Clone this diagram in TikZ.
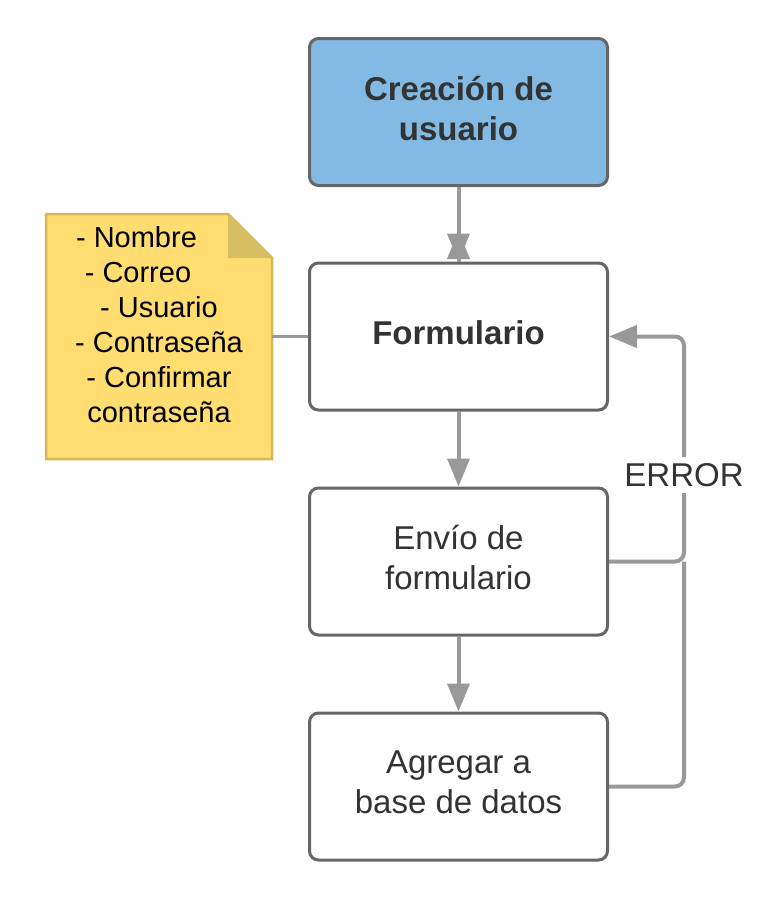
\documentclass[tikz,border=0pt]{standalone}
\usepackage{fontspec}
\setmainfont{Liberation Sans}
\usetikzlibrary{arrows.meta}

\definecolor{boxline}{HTML}{666666}
\definecolor{flowgray}{HTML}{999999}
\definecolor{txtgray}{HTML}{333333}
\definecolor{headblue}{HTML}{83BAE3}
\definecolor{notefill}{HTML}{FFDD71}
\definecolor{noteline}{HTML}{D6B656}
\definecolor{notefold}{HTML}{D7BE63}

\tikzset{
	stepbox/.style={draw=boxline, line width=3pt, rounded corners=9pt, fill=white,
		minimum width=298pt, minimum height=147pt, align=center, text=txtgray,
		text depth=8pt, font=\fontsize{33}{40}\selectfont},
	flow/.style={draw=flowgray, line width=4pt, -{Triangle[length=28pt,width=22pt]}},
	link/.style={draw=flowgray, line width=4pt},
}

\begin{document}
\begin{tikzpicture}[x=1pt, y=-1pt]
			%%%%% START %%%%%
			\useasboundingbox (0, 0) rectangle (765, 897);
			
			\node[stepbox, fill=headblue, font=\fontsize{33}{40}\selectfont\bfseries] (start) at (458.5, 112) {Creación de\\usuario};
			\node[stepbox, font=\fontsize{33}{40}\selectfont\bfseries] (form) at (458.5, 336.5) {Formulario};
			\node[stepbox] (send) at (458.5, 561.5) {Envío de\\formulario};
			\node[stepbox] (db) at (458.5, 786.5) {Agregar a\\base de datos};
			
			% nota con los campos
			\draw[line width=2.5pt, draw=noteline, fill=notefill] (46, 214) -- (228, 214) -- (272, 258) -- (272, 459) -- (46, 459) -- cycle;
			\fill[notefold] (228, 214) -- (272, 258) -- (228, 258) -- cycle;
			\node[align=center, font=\fontsize{29}{35}\selectfont] (fields) at (159, 325)
				{- Nombre\rule{45pt}{0pt}\\- Correo\rule{42pt}{0pt}\\- Usuario\\- Contraseña\\- Confirmar\\contraseña};
			\coordinate (noteedge) at (272, 336.5);
			\draw[link, line width=3pt] (noteedge) -- (form.west);
			
			\coordinate (uptip) at (458.5, 231);
			\draw[flow] (start.south) -- (form.north);
			\draw[flow] (form.north) -- (uptip);
			\draw[flow] (form.south) -- (send.north);
			\draw[flow] (send.south) -- (db.north);
			
			% vuelta por error
			\coordinate (join) at (684, 561.5);
			\draw[flow, rounded corners=9pt] (send.east) -- (join) -- (684, 336.5) -- (form.east);
			\draw[link, rounded corners=9pt] (db.east) -- (684, 786.5) -- (join);
			\node[fill=white, text=txtgray, inner xsep=1pt, inner ysep=6pt, font=\fontsize{33}{40}\selectfont] (err) at (684, 475) {ERROR};
			
			%%%%% END %%%%%
		\end{tikzpicture}
\end{document}
